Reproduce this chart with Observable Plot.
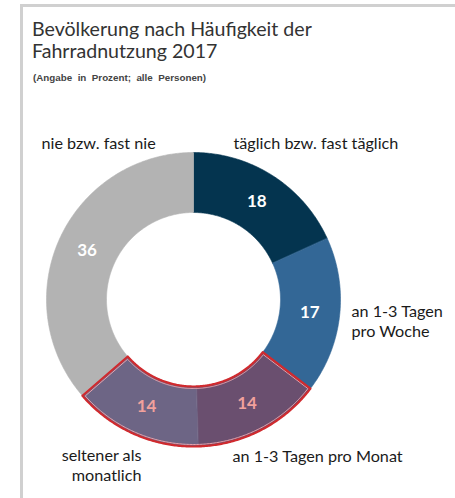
<!DOCTYPE html>
<html><head><meta charset="utf-8">
<script src="https://cdn.jsdelivr.net/npm/d3@7"></script>
<script src="https://cdn.jsdelivr.net/npm/@observablehq/plot@0.6"></script>
<style>
body{margin:0;background:#fff;font-family:Lato,sans-serif;}
#wrap{position:relative;width:455px;height:498px;overflow:hidden;background:#fff;}
.bt{position:absolute;left:20px;top:4px;right:0;height:3px;background:#d0d0d0;}
.bl{position:absolute;left:20px;top:4px;width:3px;bottom:0;background:#d0d0d0;}
#title{position:absolute;left:32px;top:18px;font-size:19.6px;line-height:22px;color:#333;white-space:nowrap;}
#sub{position:absolute;left:33px;top:72px;font:bold 9.8px "Liberation Sans",Arial,sans-serif;color:#444;white-space:nowrap;}
#chart{position:absolute;left:0;top:90px;}
</style></head><body>
<div id="wrap">
  <div class="bt"></div><div class="bl"></div>
  <div id="title">Bevölkerung nach Häufigkeit der<br>Fahrradnutzung 2017</div>
  <div id="sub">(Angabe&nbsp; in&nbsp; Prozent;&nbsp; alle&nbsp; Personen)</div>
  <div id="chart"></div>
</div>
<script>
// ---- data ----
const categories = ["täglich bzw. fast täglich", "an 1-3 Tagen pro Woche", "an 1-3 Tagen pro Monat", "seltener als monatlich", "nie bzw. fast nie"];
const values = [18, 17, 14, 14, 36];
const labelTexts = ["täglich bzw. fast täglich", "an 1-3 Tagen\npro Woche", "an 1-3 Tagen pro Monat", "seltener als\nmonatlich", "nie bzw. fast nie"];
const highlighted = ["an 1-3 Tagen pro Monat", "seltener als monatlich"];

// ---- styles / layout ----
const colors = ["#04344f", "#336796", "#6a4f6f", "#6d6585", "#b3b3b3"];
const R = 147, r0 = 87, rLabel = 117;
// category label anchor offsets from donut centre (px, y up)
const labelLayout = [
  {dx: 40, dy: 157, anchor: "start"},
  {dx: 158, dy: -21, anchor: "start"},
  {dx: 39, dy: -156, anchor: "start"},
  {dx: -52, dy: -165, anchor: "end"},
  {dx: -152, dy: 157, anchor: "start"}
];

const total = d3.sum(values);
const slices = [];
let cum = 0;
categories.forEach((c, i) => {
  const a0 = cum / total * 2 * Math.PI;
  cum += values[i];
  const a1 = cum / total * 2 * Math.PI;
  slices.push({cat: c, value: values[i], a0, a1, hl: highlighted.includes(c)});
});

function ring(a0, a1, ro, ri, inset = 0) {
  const pts = [];
  const n = Math.max(8, Math.ceil((a1 - a0) / 0.01));
  const ro2 = ro - inset, ri2 = ri + inset;
  const s0o = a0 + Math.asin(inset / ro2), s1o = a1 - Math.asin(inset / ro2);
  const s0i = a0 + Math.asin(inset / ri2), s1i = a1 - Math.asin(inset / ri2);
  for (let k = 0; k <= n; k++) { const a = s0o + (s1o - s0o) * k / n; pts.push({x: ro2 * Math.sin(a), y: ro2 * Math.cos(a)}); }
  for (let k = n; k >= 0; k--) { const a = s0i + (s1i - s0i) * k / n; pts.push({x: ri2 * Math.sin(a), y: ri2 * Math.cos(a)}); }
  return pts;
}

const slicePts = slices.flatMap(s => ring(s.a0, s.a1, R, r0).map(p => ({...p, cat: s.cat})));
const hls = slices.filter(s => s.hl);
const hA0 = d3.min(hls, s => s.a0), hA1 = d3.max(hls, s => s.a1);
const outline = ring(hA0, hA1, R, r0);
const outlineInner = ring(hA0, hA1, R, r0, 2);

const valueLabels = slices.map(s => {
  const m = (s.a0 + s.a1) / 2;
  return {x: rLabel * Math.sin(m), y: rLabel * Math.cos(m), text: String(s.value), hl: s.hl};
});
const catLabels = categories.map((c, i) => ({x: labelLayout[i].dx, y: labelLayout[i].dy, text: labelTexts[i], anchor: labelLayout[i].anchor}));

const plot = Plot.plot({
  width: 455, height: 408, margin: 0,
  x: {domain: [-193, 262], axis: null},
  y: {domain: [-199, 209], axis: null},
  color: {domain: categories, range: colors},
  style: {fontFamily: "Lato, sans-serif", background: "transparent"},
  marks: [
    Plot.line(slicePts, {x: "x", y: "y", z: "cat", fill: "cat", stroke: "cat", strokeWidth: 0.6, curve: "linear-closed"}),
    Plot.line(outlineInner, {x: "x", y: "y", curve: "linear-closed", stroke: "#e9a3ad", strokeWidth: 1, fill: "none"}),
    Plot.line(outline, {x: "x", y: "y", curve: "linear-closed", stroke: "#d02a2e", strokeWidth: 2.2, fill: "none"}),
    Plot.text(valueLabels, {x: "x", y: "y", text: "text", fill: d => d.hl ? "#f1a19c" : "#ffffff", fontSize: 17, fontWeight: "bold"}),
    Plot.text(catLabels.filter(d => d.anchor === "start"), {x: "x", y: "y", text: "text", textAnchor: "start", fill: "#1a1a1a", fontSize: 16.2, lineHeight: 1.24}),
    Plot.text(catLabels.filter(d => d.anchor === "end"), {x: "x", y: "y", text: "text", textAnchor: "end", fill: "#1a1a1a", fontSize: 16.2, lineHeight: 1.24})
  ]
});
document.getElementById("chart").appendChild(plot);
</script>
</body></html>
